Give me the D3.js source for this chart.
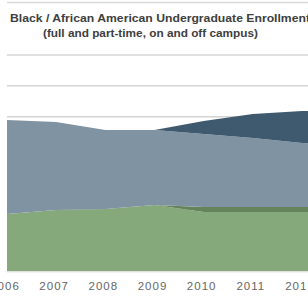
<!DOCTYPE html>
<html>
<head>
<meta charset="utf-8">
<script src="https://cdn.jsdelivr.net/npm/d3@7"></script>
<style>
  html, body { margin: 0; padding: 0; background: #fff; overflow: hidden; }
  svg { display: block; }
</style>
</head>
<body>
<div id="chart"></div>
<script>
const years = [2006, 2007, 2008, 2009, 2010, 2011, 2012, 2013];
// stacked from bottom to top
const greenVals = [924, 988, 1005, 1069, 956, 956, 956, 956];
const darkGreenVals = [0, 0, 0, 0, 81, 81, 81, 81];
const grayVals = [1523, 1426, 1280, 1216, 1183, 1118, 1037, 1000];
const darkBlueVals = [0, 0, 0, 0, 211, 389, 519, 560];
const yTicks = [0, 500, 1000, 1500, 2000, 2500, 3000, 3500];
const titleLines = ["Black / African American Undergraduate Enrollment", "(full and part-time, on and off campus)"];

const W = 308, H = 297;
const svg = d3.select("#chart").append("svg")
    .attr("width", W)
    .attr("height", H);

const x = d3.scaleLinear().domain([2006, 2012]).range([7, 302]);
const y = d3.scaleLinear().domain([0, 3500]).range([271, 55]);

// outer border line at top
svg.append("line")
    .attr("x1", 7).attr("x2", W)
    .attr("y1", 2.5).attr("y2", 2.5)
    .attr("stroke", "#d9d9d9").attr("stroke-width", 1.5);

// gridlines
svg.append("g").selectAll("line")
    .data(yTicks)
    .join("line")
    .attr("x1", 7).attr("x2", W)
    .attr("y1", d => y(d)).attr("y2", d => y(d))
    .attr("stroke", "#d4d4d4").attr("stroke-width", 1.5);

const rows = years.map((yr, i) => ({
    year: yr,
    green: greenVals[i],
    darkGreen: darkGreenVals[i],
    gray: grayVals[i],
    darkBlue: darkBlueVals[i]
}));
const keys = ["green", "darkGreen", "gray", "darkBlue"];
const colors = { green: "#85a97b", darkGreen: "#64855b", gray: "#8093a2", darkBlue: "#3f5a6f" };

const stack = d3.stack().keys(keys)(rows);
const area = d3.area()
    .x(d => x(d.data.year))
    .y0(d => y(d[0]))
    .y1(d => y(d[1]));

svg.append("clipPath").attr("id", "plot")
    .append("rect").attr("x", 7).attr("y", 0).attr("width", W - 7).attr("height", 272);

svg.append("g").attr("clip-path", "url(#plot)")
    .selectAll("path")
    .data(stack)
    .join("path")
    .attr("fill", d => colors[d.key])
    .attr("d", area);

// axis line
svg.append("line")
    .attr("x1", 7).attr("x2", W)
    .attr("y1", 272).attr("y2", 272)
    .attr("stroke", "#e3e3e3").attr("stroke-width", 1);

// x labels
svg.append("g").selectAll("text")
    .data(years)
    .join("text")
    .attr("x", d => x(d) - 2)
    .attr("y", 290)
    .attr("text-anchor", "middle")
    .attr("font-family", "Liberation Sans, Arial, sans-serif")
    .attr("font-size", 11.5)
    .attr("letter-spacing", 1)
    .attr("fill", "#666")
    .text(d => d);

// title
svg.append("text")
    .attr("x", 10).attr("y", 22)
    .attr("font-family", "Liberation Sans, Arial, sans-serif")
    .attr("font-weight", "bold")
    .attr("font-size", 11)
    .attr("fill", "#404040")
    .attr("textLength", 300)
    .attr("lengthAdjust", "spacingAndGlyphs")
    .text(titleLines[0]);

svg.append("text")
    .attr("x", 43).attr("y", 37)
    .attr("font-family", "Liberation Sans, Arial, sans-serif")
    .attr("font-weight", "bold")
    .attr("font-size", 11)
    .attr("fill", "#404040")
    .attr("textLength", 215)
    .attr("lengthAdjust", "spacingAndGlyphs")
    .text(titleLines[1]);
</script>
</body>
</html>
